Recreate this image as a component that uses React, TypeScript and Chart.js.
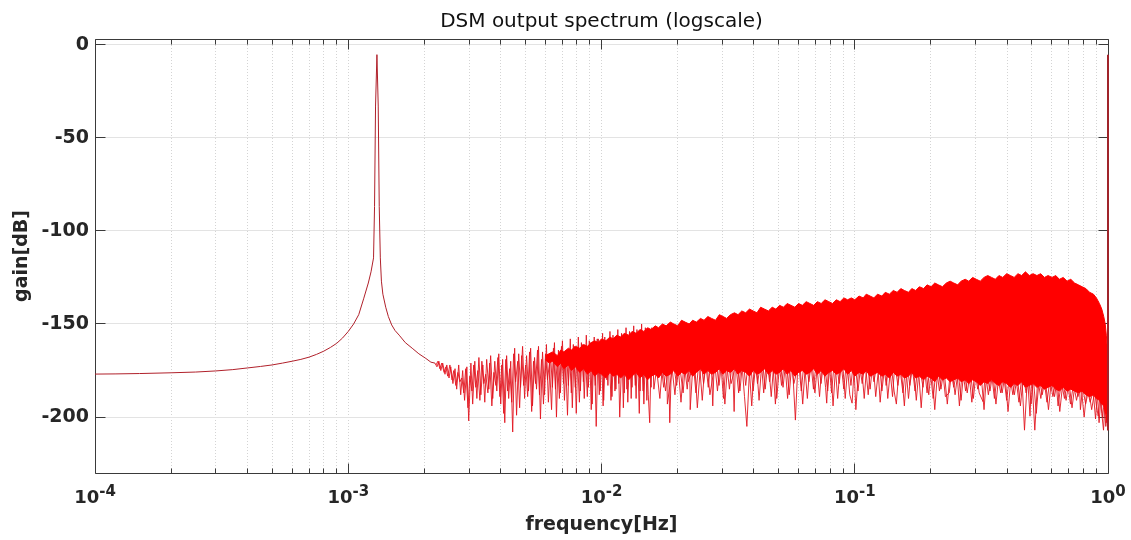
import React, { useEffect, useRef } from 'react';
import { Chart, registerables } from 'chart.js';

Chart.register(...registerables);

const TITLE = 'DSM output spectrum (logscale)';
const X_LABEL = 'frequency[Hz]';
const Y_LABEL = 'gain[dB]';

// axis ticks
const xDecades = [1e-4, 1e-3, 1e-2, 1e-1, 1];
const xTickBase = '10';
const xTickExponents = ['-4', '-3', '-2', '-1', '0'];
const minorMultipliers = [2, 3, 4, 5, 6, 7, 8, 9];
const yTickValues = [-200, -150, -100, -50, 0];
const Y_MIN = -230;
const Y_MAX = 3;

// smooth part of the spectrum incl. the tone peak  [frequency mHz, gain dB]
const curveMHz: number[][] = [
  [0.1, -176.9], [0.12, -176.8], [0.15, -176.6], [0.2, -176.2], [0.25, -175.8], [0.3, -175.2],
  [0.35, -174.5], [0.4, -173.6], [0.45, -172.8], [0.5, -172], [0.55, -171], [0.6, -170],
  [0.65, -169], [0.7, -167.8], [0.75, -166.3], [0.8, -164.6], [0.85, -162.6], [0.9, -160.4],
  [0.95, -157.5], [1.0, -154], [1.05, -150], [1.1, -145], [1.15, -136.5], [1.2, -128],
  [1.23, -122], [1.2585, -114.5], [1.27, -87], [1.2816, -33], [1.2979, -5.4], [1.3133, -33],
  [1.3255, -87], [1.3385, -114.5], [1.352, -127], [1.37, -134], [1.406, -141], [1.44, -146],
  [1.484, -150.5], [1.53, -153.5], [1.589, -156], [1.68, -160], [1.788, -163], [1.9, -166],
  [2.025, -168.5], [2.12, -170.5], [2.2, -171],
];

// component at the top end of the band (1 Hz)  [frequency mHz, gain dB]
const edgeMHz: number[][] = [[1000, -207], [1000, -5.4]];

// noisy part, sparse section, trace A [frequency mHz, gain dB]
const noiseSparseA: number[][] = [
  [2.2, -171], [2.24, -173], [2.28, -170], [2.32, -175], [2.36, -171], [2.41, -177], [2.45, -172],
  [2.5, -179], [2.54, -173], [2.59, -182], [2.64, -174], [2.68, -185], [2.73, -172], [2.78, -188],
  [2.83, -175], [2.88, -191], [2.94, -173], [2.99, -202], [3.05, -171], [3.1, -193], [3.16, -170],
  [3.22, -190], [3.28, -168], [3.34, -188], [3.4, -172], [3.46, -192], [3.52, -169], [3.59, -185],
  [3.65, -167], [3.72, -190], [3.79, -170], [3.86, -186], [3.93, -166], [4.0, -193], [4.07, -169],
  [4.15, -203], [4.22, -167], [4.3, -190], [4.38, -170], [4.46, -208], [4.54, -163], [4.62, -199],
  [4.71, -166], [4.79, -184], [4.88, -162], [4.97, -190], [5.06, -167], [5.15, -186], [5.25, -163],
  [5.34, -194], [5.44, -168], [5.54, -185], [5.64, -162], [5.74, -201], [5.85, -165], [5.96, -188],
  [6.06, -161], [6.17, -192], [6.29, -166], [6.4, -184], [6.52, -160], [6.64, -200], [6.76, -164],
  [6.88, -187], [7.01, -159], [7.14, -191], [7.27, -165], [7.4, -183], [7.53, -158], [7.67, -195],
  [7.81, -162], [7.95, -198], [8.1, -157], [8.25, -186], [8.4, -161], [8.55, -190], [8.71, -156],
  [8.87, -184], [9.03, -160], [9.19, -193], [9.36, -157], [9.53, -205], [9.71, -158], [9.88, -186],
  [10.1, -155], [10.2, -191], [10.4, -159], [10.6, -183], [10.8, -154], [11.0, -189], [11.2, -158],
  [11.4, -185], [11.6, -153], [11.8, -200], [12.1, -157], [12.3, -187], [12.5, -152], [12.7, -192],
  [13.0, -156], [13.2, -184], [13.4, -151], [13.7, -190], [13.9, -155], [14.2, -186], [14.4, -150],
  [14.7, -193], [15.0, -154], [15.3, -188], [15.5, -203], [15.8, -152], [16.1, -185],
];

// noisy part, sparse section, trace B
const noiseSparseBFreq = [
  2.22, 2.26, 2.3, 2.34, 2.39, 2.43, 2.47, 2.52, 2.57, 2.61,
  2.66, 2.71, 2.76, 2.81, 2.86, 2.91, 2.97, 3.02, 3.08, 3.13,
  3.19, 3.25, 3.31, 3.37, 3.43, 3.49, 3.56, 3.62, 3.69, 3.76,
  3.83, 3.9, 3.97, 4.04, 4.11, 4.19, 4.26, 4.34, 4.42, 4.5,
  4.58, 4.67, 4.75, 4.84, 4.93, 5.02, 5.11, 5.2, 5.3, 5.39,
  5.49, 5.59, 5.69, 5.8, 5.9, 6.01, 6.12, 6.23, 6.35, 6.46,
  6.58, 6.7, 6.82, 6.95, 7.08, 7.21, 7.34, 7.47, 7.6, 7.74,
  7.88, 8.03, 8.18, 8.33, 8.48, 8.63, 8.79, 8.95, 9.11, 9.28,
  9.45, 9.62, 9.8, 9.98, 10.15, 10.3, 10.5, 10.7, 10.9, 11.1,
  11.3, 11.5, 11.7, 12.0, 12.2, 12.4, 12.6, 12.9, 13.1, 13.3,
  13.6, 13.8, 14.1, 14.3, 14.6, 14.9, 15.1, 15.4, 15.7, 15.95,
];
const noiseSparseBGain = [
  -172, -170, -174, -171, -176, -173, -178, -172, -180, -175,
  -183, -176, -181, -179, -187, -174, -195, -178, -186, -172,
  -184, -175, -191, -170, -182, -177, -187, -171, -194, -176,
  -183, -168, -189, -172, -198, -169, -186, -174, -192, -166,
  -181, -170, -195, -167, -183, -172, -189, -165, -197, -170,
  -182, -164, -188, -169, -193, -166, -180, -171, -196, -163,
  -185, -168, -190, -162, -182, -167, -199, -164, -187, -161,
  -184, -166, -192, -160, -181, -165, -189, -159, -196, -163,
  -183, -158, -188, -162, -194, -157, -180, -161, -191, -156,
  -186, -160, -182, -155, -195, -159, -185, -154, -190, -158,
  -183, -153, -198, -157, -186, -152, -191, -156, -184, -153,
];

// noisy part, dense section, trace A (spikes below the dense band)
const noiseDenseA: number[][] = [
  [16.5, -174], [17.0, -190], [17.4, -172], [17.9, -186], [18.4, -170], [18.6, -203], [18.9, -171],
  [19.5, -188], [20.0, -170], [20.6, -192], [21.2, -170], [21.8, -185], [22.3, -169], [22.4, -196],
  [23.0, -170], [23.6, -187], [24.3, -169], [25.0, -191], [25.7, -169], [26.4, -184], [27.1, -168],
  [27.5, -194], [27.9, -169], [28.7, -186], [29.5, -168], [30.3, -190], [31.1, -169], [32.0, -185],
  [32.9, -168], [33.4, -197], [33.8, -169], [34.8, -187], [35.7, -168], [36.7, -189], [37.5, -205],
  [38.6, -168], [39.7, -186], [40.8, -169], [41.9, -191], [43.1, -168], [44.3, -185], [45.5, -169],
  [46.8, -189], [48.1, -168], [49.2, -190], [50.7, -169], [52.1, -184], [53.6, -168], [55.1, -188],
  [56.6, -169], [58.3, -201.6], [59.8, -168], [61.5, -186], [63.2, -169], [65.0, -190], [66.8, -168],
  [68.7, -185], [70.6, -169], [72.6, -189], [74.6, -168], [76.7, -184], [77.5, -192.5], [79.0, -169],
  [81.0, -187], [83.3, -168], [85.6, -190], [88.0, -169], [90.5, -185], [93.0, -169], [95.6, -188],
  [97.6, -192.5], [100, -169], [103, -186], [106, -170], [109, -190], [112, -169], [115, -185],
  [118, -170], [121, -189], [125, -170], [128, -186], [132, -170], [135, -190], [139, -171],
  [143, -186], [146, -193], [150, -171], [155, -187], [159, -172], [163, -190], [168, -171],
  [173, -186], [178, -172], [183, -195], [188, -172], [193, -187], [198, -173], [204, -190],
  [210, -173], [216, -186], [222, -174], [228, -189], [236, -187], [242, -174], [249, -188],
  [256, -175], [263, -191], [270, -174], [278, -187], [286, -175], [294, -190], [302, -175],
  [310, -187], [321, -191.7], [328, -176], [337, -188], [347, -176], [356, -190], [366, -177],
  [377, -187], [387, -177], [398, -191], [409, -177], [421, -188], [432, -178], [445, -192],
  [457, -178], [468, -207], [481, -178], [492, -199.5], [500, -178], [514, -207], [528, -179],
  [543, -190], [558, -179], [574, -192], [590, -180], [606, -189], [623, -180], [635, -194],
  [655, -181], [673, -190], [692, -181], [711, -193], [731, -182], [751, -191], [772, -183],
  [778, -196], [794, -184], [816, -193], [839, -185], [862, -196], [886, -186], [900, -194],
  [915, -199.5], [930, -188], [945, -198], [960, -207], [972, -193], [984, -203], [993, -200],
  [999, -207],
];

// noisy part, dense section, trace B
const noiseDenseB: number[][] = [
  [17.2, -172], [17.6, -184], [18.1, -171], [18.2, -193], [19.2, -170], [19.8, -183], [20.3, -171],
  [21.0, -187], [21.5, -170], [22.0, -181], [23.3, -170], [23.9, -195], [24.7, -169], [25.3, -182],
  [26.0, -169], [26.8, -188], [28.3, -168], [29.1, -183], [29.9, -169], [30.7, -193], [31.6, -168],
  [32.5, -182], [34.3, -169], [35.2, -186], [36.2, -168], [37.1, -183], [38.1, -169], [39.2, -194],
  [40.3, -168], [41.3, -182], [42.7, -169], [43.7, -187], [44.9, -168], [46.1, -181], [47.4, -169],
  [48.6, -193], [50.0, -168], [51.4, -183], [52.9, -169], [54.3, -190], [55.8, -168], [57.5, -182],
  [60.6, -169], [62.3, -193], [64.1, -168], [65.9, -181], [67.7, -169], [69.6, -187], [71.6, -168],
  [73.6, -182], [75.6, -169], [78.2, -186], [80.0, -168], [82.1, -194], [84.4, -169], [86.8, -182],
  [89.2, -168], [91.7, -190], [94.3, -169], [96.6, -183], [99, -169], [101, -196], [104, -170],
  [107, -182], [110, -170], [113, -188], [116, -169], [119, -181], [123, -170], [126, -192],
  [130, -170], [133, -183], [137, -171], [141, -189], [144, -171], [148, -183], [152, -171],
  [157, -194], [161, -172], [165, -183], [170, -171], [175, -191], [180, -172], [186, -184],
  [190, -172], [196, -188], [201, -173], [207, -196], [213, -173], [219, -185], [225, -174],
  [232, -193], [239, -174], [246, -184], [253, -175], [259, -194], [266, -174], [274, -186],
  [282, -175], [290, -192], [298, -175], [306, -185], [315, -176], [324, -196], [332, -176],
  [342, -186], [351, -176], [361, -193], [371, -177], [382, -187], [392, -177], [403, -197],
  [415, -177], [427, -188], [438, -178], [451, -194], [463, -178], [475, -187], [486, -178],
  [497, -193], [507, -179], [521, -198], [535, -179], [550, -188], [565, -179], [582, -196],
  [598, -180], [615, -189], [630, -180], [645, -197], [664, -181], [683, -191], [701, -181],
  [721, -195], [741, -182], [761, -189], [783, -183], [805, -200], [827, -184], [850, -192],
  [874, -186], [893, -201], [908, -187], [922, -203], [938, -189], [952, -200], [966, -192],
  [980, -205], [989, -199], [996, -206],
];

// dense band (solid red region) envelope
const bandFreqMHz = [
  6.0, 6.2, 6.4, 6.7, 6.9, 7.1, 7.4, 7.6, 7.9, 8.2,
  8.5, 8.8, 9.1, 9.4, 9.7, 10.0, 10.4, 10.8, 11.1, 11.5,
  11.9, 12.3, 12.8, 13.2, 13.7, 14.2, 14.7, 15.2, 15.7, 16.3,
  16.8, 17.4, 18.0, 18.7, 19.3, 20.0, 20.7, 21.4, 22.2, 22.9,
  23.7, 24.6, 25.4, 26.3, 27.2, 28.2, 29.2, 30.2, 31.2, 32.3,
  33.5, 34.6, 35.8, 37.1, 38.4, 39.7, 41.1, 42.5, 44.0, 45.6,
  47.2, 48.8, 50.5, 52.3, 54.1, 56.0, 58.0, 60.0, 62.1, 64.3,
  66.5, 68.8, 71.2, 73.7, 76.3, 79.0, 81.7, 84.6, 87.5, 90.6,
  93.7, 97.0, 100, 104, 108, 111, 115, 119, 123, 128,
  132, 137, 142, 147, 152, 157, 163, 168, 174, 180,
  187, 193, 200, 207, 214, 222, 230, 238, 246, 255,
  263, 273, 282, 292, 302, 313, 324, 335, 347, 359,
  371, 384, 398, 412, 426, 441, 456, 472, 489, 506,
  524, 542, 561, 580, 601, 622, 643, 666, 689, 713,
  738, 764, 790, 818, 846, 876, 900, 925, 945, 962,
  975, 985, 992, 997, 1000,
];
const bandTop = [
  -167, -166, -165, -167, -164, -165, -163, -164, -162, -163,
  -161, -162, -160, -159, -160, -158, -159, -157, -158, -156,
  -157, -155, -156, -154, -155, -153, -154, -152, -153, -151,
  -152, -150, -151, -149, -150, -151, -148, -149, -150, -148,
  -149, -147, -148, -146, -147, -148, -145, -146, -147, -145,
  -144, -145, -143, -144, -142, -143, -144, -141, -142, -143,
  -141, -142, -140, -141, -139, -140, -141, -139, -140, -138,
  -139, -140, -138, -139, -137, -138, -139, -137, -138, -136,
  -137, -136, -137, -135, -136, -134, -135, -136, -134, -135,
  -133, -134, -132, -133, -131, -132, -133, -131, -132, -130,
  -131, -129, -130, -128, -129, -130, -128, -127, -128, -129,
  -127, -126, -127, -125, -126, -127, -125, -124, -125, -126,
  -124, -125, -123, -124, -125, -123, -124, -122, -124, -123,
  -124, -123, -125, -124, -125, -124, -126, -125, -127, -126,
  -128, -129, -130, -131, -133, -134, -136, -139, -142, -146,
  -150, -156, -162, -169, -176,
];
const bandBottom = [
  -169, -171, -170, -173, -171, -174, -172, -175, -173, -176,
  -174, -177, -175, -178, -176, -177, -179, -176, -178, -177,
  -179, -177, -180, -178, -176, -179, -177, -180, -178, -177,
  -179, -176, -178, -177, -175, -178, -176, -177, -175, -178,
  -176, -174, -177, -175, -177, -176, -174, -177, -175, -176,
  -174, -177, -175, -176, -178, -175, -177, -176, -174, -177,
  -175, -177, -176, -174, -177, -175, -178, -176, -175, -177,
  -176, -174, -177, -175, -178, -176, -175, -177, -176, -174,
  -177, -175, -178, -176, -177, -175, -178, -177, -176, -178,
  -177, -179, -176, -178, -177, -179, -178, -176, -179, -178,
  -180, -178, -179, -181, -178, -180, -179, -181, -180, -179,
  -181, -180, -182, -180, -181, -183, -181, -182, -180, -182,
  -183, -181, -182, -184, -182, -183, -181, -184, -183, -182,
  -184, -183, -185, -184, -183, -185, -186, -184, -186, -185,
  -186, -187, -186, -188, -189, -188, -190, -191, -193, -194,
  -197, -199, -202, -204, -207,
];

const FONT = '"DejaVu Sans", sans-serif';
const TEXT = '#262626';
const AXIS = '#3a3a3a';
const NOISE_COLOR = 'rgba(226,22,32,0.9)';

const toPts = (pairs: number[][]) => pairs.map(([f, g]) => ({ x: f / 1000, y: g }));

const framePlugin = {
  id: 'frameTicks',
  beforeDatasetsDraw(chart: any) {
    const { ctx, chartArea: a, scales } = chart;
    const xs = scales.x;
    const ys = scales.y;
    const al = (v: number) => Math.floor(v) + 0.5;
    const L = al(a.left), R = al(a.right), T = al(a.top), B = al(a.bottom);
    ctx.save();
    ctx.strokeStyle = AXIS;
    ctx.lineWidth = 1;
    ctx.beginPath();
    ctx.rect(L, T, R - L, B - T);
    xDecades.forEach((d, i) => {
      const px = al(xs.getPixelForValue(d));
      ctx.moveTo(px, B); ctx.lineTo(px, B - 10);
      ctx.moveTo(px, T); ctx.lineTo(px, T + 10);
      if (i < xDecades.length - 1) {
        minorMultipliers.forEach((m) => {
          const p = al(xs.getPixelForValue(d * m));
          ctx.moveTo(p, B); ctx.lineTo(p, B - 5);
          ctx.moveTo(p, T); ctx.lineTo(p, T + 5);
        });
      }
    });
    yTickValues.forEach((v) => {
      const py = al(ys.getPixelForValue(v));
      ctx.moveTo(L, py); ctx.lineTo(L + 10, py);
      ctx.moveTo(R, py); ctx.lineTo(R - 10, py);
    });
    ctx.stroke();
    ctx.restore();
  },
  afterDraw(chart: any) {
    const { ctx, chartArea: a, scales } = chart;
    const xs = scales.x;
    ctx.save();
    ctx.fillStyle = TEXT;
    ctx.textBaseline = 'alphabetic';
    ctx.textAlign = 'left';
    const baseFont = 'bold 18px ' + FONT;
    const expFont = 'bold 15px ' + FONT;
    xDecades.forEach((d, i) => {
      const px = xs.getPixelForValue(d);
      ctx.font = baseFont;
      const w1 = ctx.measureText(xTickBase).width;
      ctx.font = expFont;
      const w2 = ctx.measureText(xTickExponents[i]).width;
      const start = px - (w1 + w2) / 2;
      ctx.font = baseFont;
      ctx.fillText(xTickBase, start, a.bottom + 30);
      ctx.font = expFont;
      ctx.fillText(xTickExponents[i], start + w1, a.bottom + 23);
    });
    ctx.font = '20px ' + FONT;
    ctx.fillStyle = '#111';
    ctx.textAlign = 'center';
    ctx.fillText(TITLE, (a.left + a.right) / 2, 27);
    ctx.restore();
  },
};

export default function App() {
  const ref = useRef<HTMLCanvasElement | null>(null);

  useEffect(() => {
    if (!ref.current) return;
    const lineDefaults = { borderWidth: 1, pointRadius: 0, fill: false };
    const chart = new Chart(ref.current, {
      type: 'line',
      data: {
        datasets: [
          {
            ...lineDefaults,
            label: 'curve',
            data: toPts(curveMHz),
            borderColor: '#b0202a',
            order: 0,
          },
          {
            ...lineDefaults,
            label: 'bandTop',
            data: bandFreqMHz.map((f, i) => ({ x: f / 1000, y: bandTop[i] })),
            borderColor: '#ff0000',
            order: 1,
          },
          {
            ...lineDefaults,
            label: 'bandBottom',
            data: bandFreqMHz.map((f, i) => ({ x: f / 1000, y: bandBottom[i] })),
            borderColor: '#ff0000',
            backgroundColor: '#ff0000',
            fill: '-1',
            order: 1,
          },
          {
            ...lineDefaults,
            label: 'noiseA',
            data: toPts([...noiseSparseA, ...noiseDenseA]),
            borderColor: NOISE_COLOR,
            order: 2,
          },
          {
            ...lineDefaults,
            label: 'noiseB',
            data: [
              ...noiseSparseBFreq.map((f, i) => ({ x: f / 1000, y: noiseSparseBGain[i] })),
              ...toPts(noiseDenseB),
            ],
            borderColor: NOISE_COLOR,
            order: 2,
          },
          {
            ...lineDefaults,
            label: 'edge',
            data: toPts(edgeMHz),
            borderColor: '#a0242a',
            borderWidth: 2,
            clip: false,
            order: 0,
          },
        ],
      },
      options: {
        responsive: false,
        animation: false,
        devicePixelRatio: 1,
        parsing: false,
        layout: { padding: { left: 0, right: 23, top: 39, bottom: 0 } },
        plugins: {
          legend: { display: false },
          title: { display: false },
          tooltip: { enabled: false },
        },
        elements: { line: { tension: 0 } },
        scales: {
          x: {
            type: 'logarithmic',
            min: 1e-4,
            max: 1,
            afterFit: (s: any) => { s.height = 67; },
            afterBuildTicks: (s: any) => {
              const t: any[] = [];
              xDecades.forEach((d, i) => {
                t.push({ value: d });
                if (i < xDecades.length - 1) minorMultipliers.forEach((m) => t.push({ value: d * m }));
              });
              s.ticks = t;
            },
            ticks: { autoSkip: false, maxRotation: 0, callback: () => '' },
            grid: { color: '#d4d4d4', lineWidth: 1, drawTicks: false },
            border: { display: false, dash: [1, 2] },
            title: {
              display: true,
              text: X_LABEL,
              color: TEXT,
              font: { family: FONT, size: 19, weight: 'bold' },
              padding: { top: 0, bottom: 4 },
            },
          },
          y: {
            type: 'linear',
            min: Y_MIN,
            max: Y_MAX,
            afterFit: (s: any) => { s.width = 95; },
            afterBuildTicks: (s: any) => { s.ticks = yTickValues.map((v) => ({ value: v })); },
            ticks: {
              padding: 6,
              color: TEXT,
              font: { family: FONT, size: 19, weight: 'bold' },
              callback: (v: any) => String(v),
            },
            grid: { color: '#e3e3e3', lineWidth: 1, drawTicks: false },
            border: { display: false },
            title: {
              display: true,
              text: Y_LABEL,
              color: TEXT,
              font: { family: FONT, size: 19, weight: 'bold' },
              padding: { top: 11, bottom: 0 },
            },
          },
        },
      },
      plugins: [framePlugin],
    });
    return () => chart.destroy();
  }, []);

  return (
    <div style={{ position: 'fixed', left: 0, top: 0, width: 1131, height: 540, background: '#fff' }}>
      <canvas ref={ref} width={1131} height={540} />
    </div>
  );
}
